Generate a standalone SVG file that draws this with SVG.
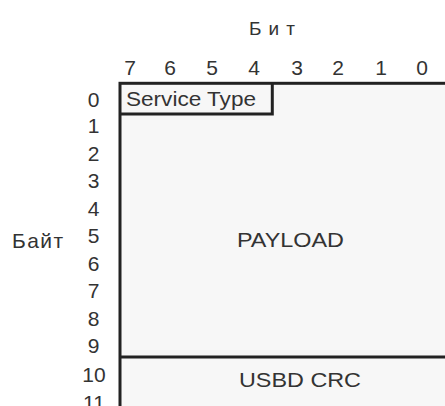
<svg xmlns="http://www.w3.org/2000/svg" width="445" height="406" viewBox="0 0 445 406">
<style>
text{font-family:"Liberation Sans",Arial,sans-serif;fill:#333333}
.d{font-size:21px;text-anchor:middle}
.f{font-size:21px}
.box{fill:#f7f7f7;stroke:#222;stroke-width:3}
.ln{stroke:#222;stroke-width:3;fill:none}
</style>
<rect width="445" height="406" fill="#ffffff"/>
<g id="title-bit"><text x="249" y="35" font-size="19" textLength="46" lengthAdjust="spacing">Бит</text></g>
<g id="bit-labels">
<text class="d" x="130" y="75">7</text>
<text class="d" x="170" y="75">6</text>
<text class="d" x="212" y="75">5</text>
<text class="d" x="254" y="75">4</text>
<text class="d" x="297" y="75">3</text>
<text class="d" x="338" y="75">2</text>
<text class="d" x="381" y="75">1</text>
<text class="d" x="422" y="75">0</text>
</g>
<g id="title-byte"><text x="12" y="247.5" font-size="21" textLength="51" lengthAdjust="spacing">Байт</text></g>
<g id="byte-labels">
<text class="d" x="93.5" y="106.7">0</text>
<text class="d" x="93.5" y="133.2">1</text>
<text class="d" x="93.5" y="160.7">2</text>
<text class="d" x="93.5" y="188.2">3</text>
<text class="d" x="93.5" y="215.7">4</text>
<text class="d" x="93.5" y="243.2">5</text>
<text class="d" x="93.5" y="270.7">6</text>
<text class="d" x="93.5" y="298.2">7</text>
<text class="d" x="93.5" y="325.7">8</text>
<text class="d" x="93.5" y="353.2">9</text>
<text class="d" x="94" y="381.7">10</text>
<text class="d" x="94" y="409.5">11</text>
</g>
<g id="frame"><rect class="box" x="120" y="83.3" width="340" height="340"/></g>
<g id="service-type">
<path class="ln" d="M120 114H272.3V83.3"/>
<text class="f" x="126" y="106" font-size="20" textLength="130" lengthAdjust="spacingAndGlyphs">Service Type</text>
</g>
<g id="payload"><text class="f" x="237" y="246.7" textLength="107" lengthAdjust="spacingAndGlyphs">PAYLOAD</text></g>
<g id="usbd-crc">
<path class="ln" d="M120 357H445"/>
<text class="f" x="239" y="386.7" textLength="122" lengthAdjust="spacingAndGlyphs">USBD CRC</text>
</g>
</svg>
